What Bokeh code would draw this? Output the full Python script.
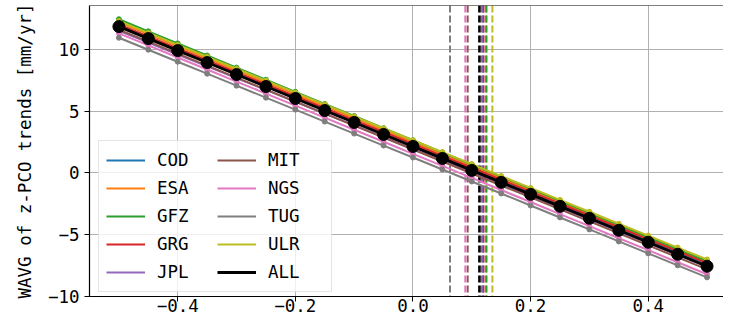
from bokeh.plotting import figure
from bokeh.models import Range1d, Span, Legend, LegendItem, FixedTicker, CustomJSTickFormatter
from bokeh.embed import file_html
from bokeh.resources import INLINE

# ---------------- data ----------------
x = [-0.50, -0.45, -0.40, -0.35, -0.30, -0.25, -0.20, -0.15, -0.10, -0.05, 0.00,
     0.05, 0.10, 0.15, 0.20, 0.25, 0.30, 0.35, 0.40, 0.45, 0.50]

cod = [12.00, 11.03, 10.06, 9.09, 8.12, 7.15, 6.18, 5.21, 4.24, 3.27, 2.30,
       1.33, 0.36, -0.61, -1.58, -2.55, -3.52, -4.49, -5.46, -6.43, -7.40]
esa = [12.20, 11.23, 10.26, 9.29, 8.32, 7.35, 6.38, 5.41, 4.44, 3.47, 2.50,
       1.53, 0.56, -0.41, -1.38, -2.35, -3.32, -4.29, -5.26, -6.23, -7.20]
gfz = [12.45, 11.47, 10.49, 9.51, 8.53, 7.55, 6.57, 5.59, 4.61, 3.63, 2.65,
       1.67, 0.69, -0.29, -1.27, -2.25, -3.23, -4.21, -5.19, -6.17, -7.15]
grg = [12.00, 11.04, 10.07, 9.11, 8.14, 7.18, 6.21, 5.25, 4.28, 3.32, 2.35,
       1.39, 0.42, -0.55, -1.51, -2.48, -3.44, -4.41, -5.37, -6.34, -7.30]
jpl = [11.50, 10.55, 9.59, 8.64, 7.68, 6.73, 5.77, 4.82, 3.86, 2.91, 1.95,
       1.00, 0.04, -0.92, -1.87, -2.83, -3.78, -4.74, -5.69, -6.65, -7.60]
mit = [11.60, 10.63, 9.66, 8.69, 7.72, 6.75, 5.78, 4.81, 3.84, 2.87, 1.90,
       0.93, -0.04, -1.01, -1.98, -2.95, -3.92, -4.89, -5.86, -6.83, -7.80]
ngs = [11.30, 10.33, 9.35, 8.38, 7.40, 6.43, 5.45, 4.48, 3.50, 2.53, 1.55,
       0.58, -0.40, -1.38, -2.35, -3.33, -4.30, -5.28, -6.25, -7.23, -8.20]
tug = [10.95, 9.98, 9.01, 8.04, 7.07, 6.10, 5.13, 4.16, 3.19, 2.22, 1.25,
       0.28, -0.69, -1.66, -2.63, -3.60, -4.57, -5.54, -6.51, -7.48, -8.45]
ulr = [12.30, 11.34, 10.37, 9.41, 8.44, 7.48, 6.51, 5.55, 4.58, 3.62, 2.65,
       1.69, 0.72, -0.25, -1.21, -2.18, -3.14, -4.11, -5.07, -6.04, -7.00]
all_ = [11.85, 10.88, 9.91, 8.94, 7.97, 7.00, 6.03, 5.06, 4.09, 3.12, 2.15,
        1.18, 0.21, -0.76, -1.73, -2.70, -3.67, -4.64, -5.61, -6.58, -7.55]

labels = ["COD", "ESA", "GFZ", "GRG", "JPL", "MIT", "NGS", "TUG", "ULR", "ALL"]
series = [cod, esa, gfz, grg, jpl, mit, ngs, tug, ulr, all_]
colors = ["#1f77b4", "#ff7f0e", "#2ca02c", "#d62728", "#9467bd",
          "#8c564b", "#e377c2", "#7f7f7f", "#bcbd22", "#000000"]
# zero crossings (dashed vertical lines)
crossings = [0.119, 0.125, 0.1245, 0.120, 0.117, 0.093, 0.089, 0.063, 0.135, 0.113]

x_ticks = [-0.4, -0.2, 0.0, 0.2, 0.4]
y_ticks = [-10, -5, 0, 5, 10]
X_MIN, X_MAX = -0.55, 0.528
Y_MIN, Y_MAX = -10.0, 13.56

FONT = "DejaVu Sans Mono"
FS = "17.5px"

p = figure(width=723, height=319, output_backend="svg", toolbar_location=None,
           x_range=Range1d(X_MIN, X_MAX), y_range=Range1d(Y_MIN, Y_MAX),
           min_border_left=89, min_border_right=0, min_border_top=5, min_border_bottom=23)
p.outline_line_color = None
p.background_fill_color = "white"
p.border_fill_color = "white"

for ax in (p.xaxis, p.yaxis):
    ax.major_label_text_font = FONT
    ax.major_label_text_font_size = FS
    ax.major_label_text_color = "black"
    ax.axis_line_color = "black"
    ax.axis_line_width = 1.2
    ax.major_tick_line_color = "black"
    ax.major_tick_out = 5
    ax.major_tick_in = 0
    ax.minor_tick_out = 0
    ax.minor_tick_in = 0

p.xaxis.ticker = FixedTicker(ticks=x_ticks)
p.yaxis.ticker = FixedTicker(ticks=y_ticks)
p.xaxis.formatter = CustomJSTickFormatter(code="return tick.toFixed(1).replace('-', '\u2212');")
p.yaxis.formatter = CustomJSTickFormatter(code="return tick.toFixed(0).replace('-', '\u2212');")
p.xaxis.major_label_standoff = -3
p.yaxis.major_label_standoff = 5
p.yaxis.axis_label = "WAVG of z-PCO trends [mm/yr]"
p.yaxis.axis_label_text_font = FONT
p.yaxis.axis_label_text_font_size = FS
p.yaxis.axis_label_text_font_style = "normal"
p.yaxis.axis_label_text_color = "black"
p.yaxis.axis_label_standoff = 10

p.grid.grid_line_color = "#b0b0b0"
p.grid.grid_line_width = 1
p.xgrid.ticker = FixedTicker(ticks=x_ticks)
p.ygrid.ticker = FixedTicker(ticks=y_ticks)

# top spine
p.add_layout(Span(location=Y_MAX, dimension="width", line_color="black", line_width=1.2))

# vertical dashed lines
for c, col, lab in zip(crossings, colors, labels):
    lw = 2.6 if lab == "ALL" else 2
    p.add_layout(Span(location=c, dimension="height", line_color=col,
                      line_dash="7 3", line_width=lw, level="underlay"))

items = []
for ys, col, lab in zip(series, colors, labels):
    if lab == "ALL":
        r = p.line(x, ys, line_color=col, line_width=2.8)
        p.scatter(x, ys, size=12, fill_color=col, line_color=col)
    else:
        r = p.line(x, ys, line_color=col, line_width=2)
        p.scatter(x, ys, size=5, fill_color=col, line_color=col)
    items.append(LegendItem(label=lab, renderers=[r]))

leg = Legend(items=items, location=(9, 4), ncols=2, orientation="vertical",
             label_text_font=FONT, label_text_font_size=FS, label_text_color="black",
             glyph_width=39, glyph_height=24, label_height=24, label_width=56,
             spacing=4, padding=7, label_standoff=12, margin=0,
             background_fill_color="white", background_fill_alpha=0.8,
             border_line_color="#cccccc", border_line_width=1)
p.add_layout(leg)

open("out.html", "w").write(file_html(p, INLINE))
